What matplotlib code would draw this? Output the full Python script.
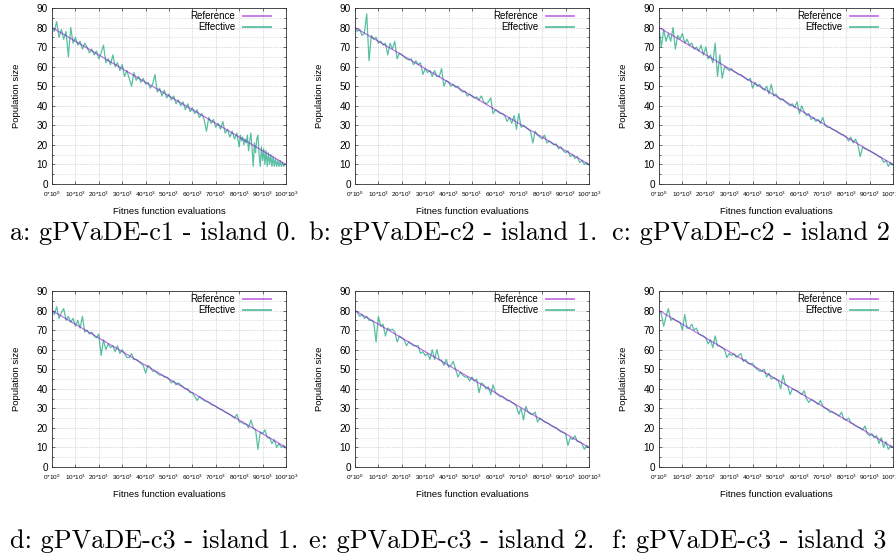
import numpy as np
import matplotlib
matplotlib.use("Agg")
import matplotlib.pyplot as plt
from matplotlib.ticker import MultipleLocator, FixedLocator

plt.rcParams['font.family'] = ['Liberation Sans', 'DejaVu Sans']
plt.rcParams['mathtext.fontset'] = 'custom'
plt.rcParams['mathtext.rm'] = 'Liberation Sans'
plt.rcParams['mathtext.it'] = 'Liberation Sans'
plt.rcParams['mathtext.default'] = 'rm'

# ---------------- data ----------------
evals = np.arange(0, 100001, 1000)
# panel a is sampled more densely towards the end
evals_a = np.concatenate([np.arange(0, 80000, 1000), np.arange(80000, 100001, 500)])
ref_x = [0, 100000]
ref_y = [80, 10]

eff_a = [80, 78, 83, 75, 79, 74, 78, 65, 80, 72,
         75, 71, 73, 69, 72, 70, 67, 69, 66, 68,
         64, 67, 71, 62, 64, 61, 66, 60, 62, 58,
         61, 55, 58, 54, 50, 57, 53, 55, 52, 54,
         51, 52, 49, 51, 56, 47, 49, 45, 48, 44,
         46, 43, 45, 41, 43, 40, 42, 38, 41, 37,
         39, 36, 38, 34, 36, 33, 27, 34, 31, 33,
         29, 31, 28, 32, 26, 28, 24, 27, 23, 26,
         19, 25, 22, 24, 20, 23, 21, 25, 17, 22,
         26, 18, 9, 21, 16, 23, 25, 15, 9, 19,
         12, 18, 10, 17, 9, 16, 10, 15, 9, 14,
         9, 13, 9, 12, 9, 12, 9, 11, 9, 10, 10]

eff_b = [80, 78, 79, 76, 77, 87, 63, 76, 74, 75,
         72, 73, 71, 72, 66, 72, 69, 73, 64, 67,
         66, 65, 64, 63.5, 64, 61, 63, 61, 62, 56,
         59, 57, 58, 55, 58, 55, 55, 59, 50, 53,
         52, 50, 51, 49.5, 50, 48, 47, 47.5, 45, 46,
         45, 44, 44.5, 43, 45, 42, 41, 42, 44, 36,
         38, 37, 36, 36, 35, 32, 34, 31, 35, 28,
         36, 29, 30, 29, 28, 27, 21, 27, 25, 24,
         23, 25, 21, 22, 21, 20, 20.5, 18, 19, 17,
         16, 17, 14, 15, 13, 14, 11, 12, 10, 11, 9.5]

eff_c = [80, 70, 79, 73, 77, 73, 80, 69, 76, 74,
         77, 72, 74, 71, 72, 69, 70, 68, 71, 66,
         70, 64, 66, 62, 72, 55, 66, 54, 60, 59,
         58, 59, 57.5, 57, 56, 56, 55, 54, 53, 54,
         49, 52, 50, 51, 49, 48, 50, 46, 51, 45,
         46, 44, 43, 43.5, 42, 41, 40, 41, 39, 42,
         36, 40, 37, 35, 36, 33, 34, 32, 33, 31,
         34, 30, 29, 29, 28, 27.5, 27, 26, 25.5, 25,
         24, 22, 24, 21, 23, 20, 14, 19, 18, 17.5,
         17, 16.3, 15.6, 15, 14, 13.5, 11, 12, 9, 11, 9.5]

eff_d = [80, 78, 82, 76, 79, 81, 75, 77, 74, 76,
         72, 75, 71, 77, 69, 70, 68, 69, 67, 66,
         68, 57, 65, 60, 63, 61, 62, 59, 62, 58,
         60, 58, 56, 56, 58, 55, 55, 54, 53, 52,
         48, 52, 51, 49, 49, 48, 47, 47, 46, 46,
         45, 43, 44, 42, 43, 42, 41, 40, 40, 38,
         38, 36, 34, 36, 35, 34, 33.5, 33, 32, 31.5,
         31, 30, 29.5, 29, 28, 27.5, 26.8, 26, 25, 27,
         23, 23, 22, 22, 20, 24, 20, 19, 9, 18,
         17, 19, 15, 15, 12, 14, 10, 12, 10, 11, 9.5]

eff_e = [80, 79, 77, 78, 76, 77, 75, 75, 74, 64,
         77, 72, 73, 67, 71, 70, 70.5, 69, 64, 67,
         66, 65, 62, 64, 63, 62, 62, 62, 58, 59,
         57, 58, 55, 60, 55, 60, 55, 54.5, 52, 55,
         51, 52, 54, 50, 46, 48.5, 47, 46, 46, 44,
         46, 44, 45, 38, 43, 42, 40, 41, 37, 42,
         38, 37, 36, 36, 35, 34, 34, 33, 32.4, 31,
         27, 30, 24, 31, 28, 27, 27, 28, 23, 25,
         24, 23, 22.6, 22, 21, 20.5, 20, 19, 18, 17.7,
         17, 11, 15, 14, 16, 13, 12.8, 12, 9, 11, 10]

eff_f = [80, 78, 72, 77, 81, 75, 76, 75, 74.5, 74,
         70, 78, 71, 71, 73, 70, 71, 68, 67.5, 67,
         66, 63, 65, 61, 67, 62, 61.8, 61, 60, 56,
         58, 57, 58, 56, 57, 58, 54, 55, 53, 52.7,
         53, 51, 50, 49, 49, 50, 46, 48, 45, 45.7,
         45, 44, 40, 47, 42, 41.5, 37, 40, 39.4, 39,
         38, 37, 39, 35, 33, 34.5, 34, 33, 32, 34,
         31, 30, 29.5, 28, 28.2, 27.5, 27, 26, 28, 24.5,
         24, 25, 22.6, 22, 21, 20.5, 20, 19, 21, 17,
         16, 17, 15, 16, 12, 15, 10, 13, 9, 11, 10]

panels = [(evals_a, eff_a), (evals, eff_b), (evals, eff_c),
          (evals, eff_d), (evals, eff_e), (evals, eff_f)]
captions = ["a: gPVaDE-c1 - island 0.", "b: gPVaDE-c2 - island 1.",
            "c: gPVaDE-c2 - island 2", "d: gPVaDE-c3 - island 1.",
            "e: gPVaDE-c3 - island 2.", "f: gPVaDE-c3 - island 3"]
xticks = [0, 10000, 20000, 30000, 40000, 50000, 60000, 70000, 80000, 90000, 100000]
xticklabels = ["0*10$^{0}$"] + [f"{v}*10$^{{3}}$" for v in range(10, 101, 10)]
xlabel = "Fitnes function evaluations"
ylabel = "Population size"

# ---------------- layout ----------------
W, H = 896, 559
fig = plt.figure(figsize=(W / 100, H / 100), dpi=100)

lefts = [52, 355, 659]
tops = [8, 291]
aw, ah = 234, 176
cap_x = [10, 309, 612]
cap_base = [240, 548]

ref_color = '#9400d3'
eff_color = '#009e73'

for i, (xs, eff) in enumerate(panels):
    r, c = divmod(i, 3)
    l = lefts[c]
    t = tops[r]
    ax = fig.add_axes([l / W, 1 - (t + ah) / H, aw / W, ah / H])
    ax.plot(ref_x, ref_y, color=ref_color, alpha=0.55, lw=0.9, label='Reference', zorder=3)
    ax.plot(xs, eff, color=eff_color, alpha=0.65, lw=0.9, label='Effective', zorder=2)
    ax.set_xlim(0, 100000)
    ax.set_ylim(0, 90)
    ax.xaxis.set_major_locator(FixedLocator(xticks))
    ax.set_xticklabels(xticklabels, fontsize=4.6)
    ax.yaxis.set_major_locator(MultipleLocator(10))
    ax.yaxis.set_minor_locator(MultipleLocator(5))
    ax.tick_params(axis='y', labelsize=7.2, pad=3)
    ax.tick_params(axis='x', pad=4)
    ax.tick_params(which='both', direction='in', top=True, right=True,
                   length=2.5, width=0.5, color='#303030')
    ax.tick_params(which='minor', length=1.5)
    ax.grid(True, which='major', color='#b8b8b8', lw=0.5, linestyle=(0, (1, 1.5)))
    ax.grid(True, which='minor', axis='y', color='#c8c8c8', lw=0.5, linestyle=(0, (1, 1.5)))
    for s in ax.spines.values():
        s.set_linewidth(0.6)
        s.set_color('#303030')
    ax.set_xlabel(xlabel, fontsize=6.8, labelpad=6)
    ax.set_ylabel(ylabel, fontsize=6.8, labelpad=11)
    leg = ax.legend(loc='upper right', frameon=False, markerfirst=False, fontsize=7,
                    handlelength=2.9, handletextpad=0.8, labelspacing=0.15,
                    borderaxespad=0.1, borderpad=0.2,
                    bbox_to_anchor=(1 - 12 / aw, 1.0))
    for h in leg.get_lines():
        h.set_linewidth(1.3)
    fig.text(cap_x[c] / W, 1 - cap_base[r] / H, captions[i],
             family=['cmr10', 'DejaVu Serif'], fontsize=18.9, ha='left', va='baseline')

fig.savefig('out.png', dpi=100)
